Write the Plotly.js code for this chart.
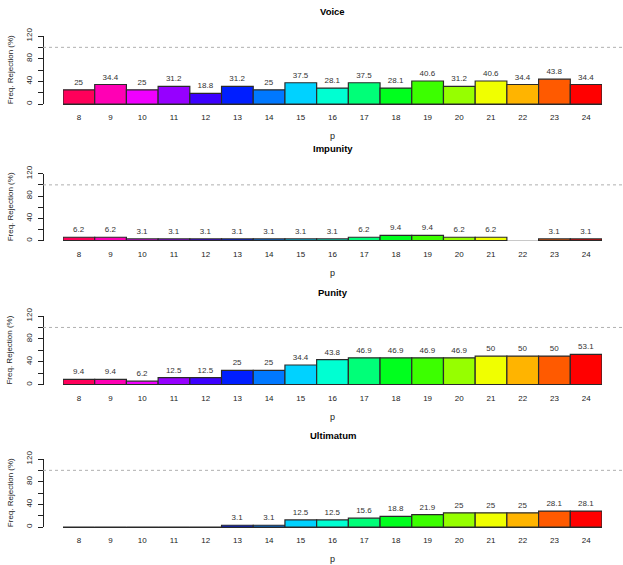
<!DOCTYPE html>
<html><head><meta charset="utf-8">
<script src="https://cdn.plot.ly/plotly-3.0.1.min.js"></script>
<style>html,body{margin:0;padding:0;background:#fff}</style>
</head><body><div id="chart" style="width:623px;height:565px"></div>
<script>
const categories = ['8','9','10','11','12','13','14','15','16','17','18','19','20','21','22','23','24'];
const voice     = [25, 34.4, 25, 31.2, 18.8, 31.2, 25, 37.5, 28.1, 37.5, 28.1, 40.6, 31.2, 40.6, 34.4, 43.8, 34.4];
const impunity  = [6.2, 6.2, 3.1, 3.1, 3.1, 3.1, 3.1, 3.1, 3.1, 6.2, 9.4, 9.4, 6.2, 6.2, null, 3.1, 3.1];
const punity    = [9.4, 9.4, 6.2, 12.5, 12.5, 25, 25, 34.4, 43.8, 46.9, 46.9, 46.9, 46.9, 50, 50, 50, 53.1];
const ultimatum = [0, 0, 0, 0, 0, 3.1, 3.1, 12.5, 12.5, 15.6, 18.8, 21.9, 25, 25, 25, 28.1, 28.1];
const panelTitles = ['Voice', 'Impunity', 'Punity', 'Ultimatum'];
const xAxisTitle = 'p';
const yAxisTitle = 'Freq. Rejection (%)';
const yTickVals = [0, 20, 40, 60, 80, 100, 120];
const yTickText = ['0', '', '40', '', '80', '', '120'];
const refLineValue = 100;

// rev(rainbow(17)) palette
const barColors = ['#FF005A','#FF00B4','#F000FF','#9600FF','#3C00FF','#001EFF','#0078FF','#00D2FF',
  '#00FFD2','#00FF78','#00FF1E','#3CFF00','#96FF00','#F0FF00','#FFB400','#FF5A00','#FF0000'];

const series = [voice, impunity, punity, ultimatum];

// geometry (pixels)
const W = 623, H = 565;
const FONT = 'Liberation Sans, Arial, Helvetica, sans-serif';
const basePx = [104, 240.7, 384.7, 527];
const topPx  = [36, 173.7, 316, 459];
const xLeftPx = 63, xRightPx = 602, yAxisPx = 43;
const yLow = -0.6, yHigh = 120;

const data = [];
const layout = {
  width: W, height: H,
  margin: {l: 0, r: 0, t: 0, b: 0},
  paper_bgcolor: '#fff', plot_bgcolor: 'rgba(0,0,0,0)',
  showlegend: false,
  bargap: 0,
  font: {family: FONT, size: 8, color: '#222'},
  shapes: [], annotations: []
};

series.forEach((vals, i) => {
  const n = i === 0 ? '' : String(i + 1);
  data.push({
    type: 'bar',
    x: categories,
    y: vals,
    xaxis: 'x' + n, yaxis: 'y' + n,
    marker: {color: barColors, line: {color: '#2a2a2a', width: 1.2}},
    text: vals.map(v => (v === null || v === 0) ? '' : String(v)),
    textposition: 'outside',
    textfont: {family: FONT, size: 8, color: '#333'},
    constraintext: 'none',
    cliponaxis: false,
    hoverinfo: 'x+y'
  });
  const pxPerUnit = (basePx[i] - topPx[i]) / 120;
  const botPx = basePx[i] + (0 - yLow) * pxPerUnit;
  const dom = [1 - botPx / H, 1 - topPx[i] / H];
  layout['xaxis' + n] = {
    domain: [xLeftPx / W, xRightPx / W],
    anchor: 'y' + n,
    type: 'category',
    range: [-0.5, categories.length - 0.5],
    showgrid: false, zeroline: false, showline: false,
    ticks: '', ticklabelstandoff: 7,
    tickfont: {family: FONT, size: 8, color: '#222'},
    automargin: false, fixedrange: true
  };
  layout['yaxis' + n] = {
    domain: dom,
    anchor: 'free', position: yAxisPx / W,
    range: [yLow, yHigh],
    tickmode: 'array', tickvals: yTickVals, ticktext: yTickText,
    tickangle: -90,
    showgrid: false,
    zeroline: true, zerolinecolor: i === 1 ? '#c8c8c8' : '#2a2a2a', zerolinewidth: 1,
    showline: true, linecolor: '#222', linewidth: 1,
    ticks: 'outside', ticklen: 5, tickwidth: 1, tickcolor: '#222',
    ticklabelstandoff: 3,
    tickfont: {family: FONT, size: 8, color: '#222'},
    automargin: false, fixedrange: true
  };
  layout.shapes.push({
    type: 'line', xref: 'paper', yref: 'y' + n,
    x0: yAxisPx / W, x1: 1, y0: refLineValue, y1: refLineValue,
    line: {color: '#b0b0b0', width: 1, dash: '3px,3px'}
  });
  const midX = (xLeftPx + xRightPx) / 2 / W;
  layout.annotations.push({
    xref: 'paper', yref: 'paper', x: midX, y: 1 - (basePx[i] - 92) / H,
    text: '<b>' + panelTitles[i] + '</b>', showarrow: false,
    font: {family: FONT, size: 9.5, color: '#000'}, xanchor: 'center', yanchor: 'middle'
  });
  layout.annotations.push({
    xref: 'paper', yref: 'paper', x: midX, y: 1 - (basePx[i] + 32) / H,
    text: xAxisTitle, showarrow: false,
    font: {family: FONT, size: 9, color: '#222'}, xanchor: 'center', yanchor: 'middle'
  });
  layout.annotations.push({
    xref: 'paper', yref: 'paper', x: 10 / W, y: (dom[0] + dom[1]) / 2,
    text: yAxisTitle, showarrow: false, textangle: -90,
    font: {family: FONT, size: 8, color: '#222'}, xanchor: 'center', yanchor: 'middle'
  });
});

Plotly.newPlot('chart', data, layout, {displayModeBar: false, staticPlot: true});
</script></body></html>
